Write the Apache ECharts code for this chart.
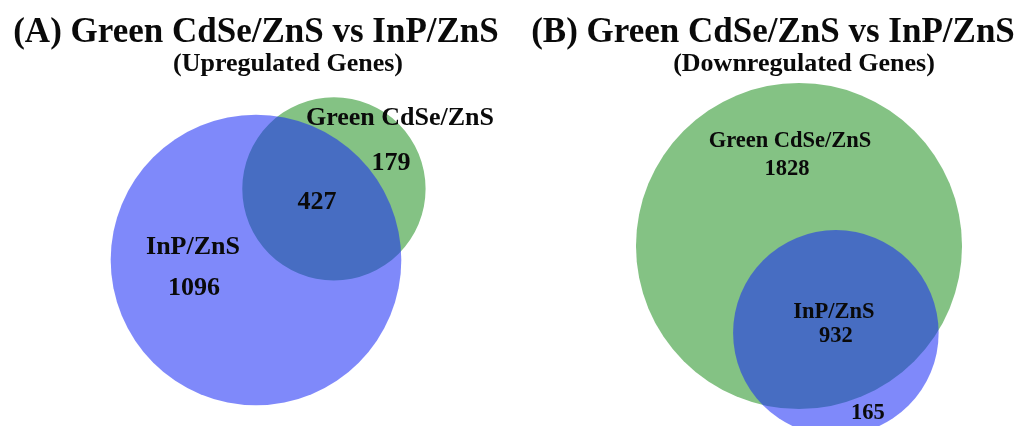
<!DOCTYPE html>
<html>
<head>
<meta charset="utf-8">
<script src="https://cdn.jsdelivr.net/npm/echarts@6/dist/echarts.min.js"></script>
<style>
  html, body { margin: 0; padding: 0; background: #ffffff; }
  #chart { width: 1025px; height: 426px; }
</style>
</head>
<body>
<div id="chart"></div>
<script>
// ---- Gene counts per Venn region ----
// (A) upregulated genes
const upSetNames = ['InP/ZnS', 'Green CdSe/ZnS'];
const upOnly = [1096, 179];   // genes unique to each set
const upShared = 427;         // genes common to both sets

// (B) downregulated genes
const downSetNames = ['Green CdSe/ZnS', 'InP/ZnS'];
const downOnly = [1828, 165];
const downShared = 932;

const panelTitles = ['(A) Green CdSe/ZnS vs InP/ZnS', '(B) Green CdSe/ZnS vs InP/ZnS'];
const panelSubtitles = ['(Upregulated Genes)', '(Downregulated Genes)'];

// ---- Appearance ----
const W = 1025, H = 426;
const FONT = '"Liberation Serif", "Times New Roman", serif';
const TEXT_COLOR = '#0a0a0a';
const setStyle = {
  'Green CdSe/ZnS': { fill: 'rgb(132,194,132)', opacity: 1, z: 0 },
  'InP/ZnS':        { fill: 'rgb(22,40,245)',  opacity: 0.55, z: 1 }
};

// ---- Area-proportional Venn geometry ----
function lensArea(r1, r2, d) {
  if (d >= r1 + r2) return 0;
  const rs = Math.min(r1, r2), rl = Math.max(r1, r2);
  if (d <= rl - rs) return Math.PI * rs * rs;
  const a1 = Math.acos((d * d + r1 * r1 - r2 * r2) / (2 * d * r1));
  const a2 = Math.acos((d * d + r2 * r2 - r1 * r1) / (2 * d * r2));
  const k = Math.sqrt((-d + r1 + r2) * (d + r1 - r2) * (d - r1 + r2) * (d + r1 + r2));
  return r1 * r1 * a1 + r2 * r2 * a2 - 0.5 * k;
}
function solveDistance(r1, r2, target) {
  let lo = Math.abs(r1 - r2), hi = r1 + r2;
  for (let i = 0; i < 80; i++) {
    const mid = (lo + hi) / 2;
    if (lensArea(r1, r2, mid) > target) lo = mid; else hi = mid;
  }
  return (lo + hi) / 2;
}

// layout: where the first circle sits (px), px per unit, direction of the second circle
const panelLayouts = [
  { cx: 256, cy: 260, scale: 6.6, angle: 42.4 },
  { cx: 799, cy: 246, scale: 5.5, angle: -67 }
];

function buildPanel(names, only, shared, layout) {
  const totals = only.map(v => v + shared);
  const radii = totals.map(t => Math.sqrt(t / Math.PI));
  const dist = solveDistance(radii[0], radii[1], shared);
  const th = layout.angle * Math.PI / 180;
  const centers = [[0, 0], [dist * Math.cos(th), dist * Math.sin(th)]];
  return { names, only, shared, radii, centers, layout };
}

const panels = [
  buildPanel(upSetNames, upOnly, upShared, panelLayouts[0]),
  buildPanel(downSetNames, downOnly, downShared, panelLayouts[1])
];

// label placement: pixel offset from a circle's centre
const labelSpecs = [
  [
    { circle: 0, dx: -63, dy: -13, text: p => p.names[0], size: 26 },
    { circle: 0, dx: -62, dy: 28,  text: p => String(p.only[0]), size: 26 },
    { circle: 0, dx: 61,  dy: -58, text: p => String(p.shared), size: 26 },
    { circle: 1, dx: 66,  dy: -71, text: p => p.names[1], size: 26 },
    { circle: 1, dx: 57,  dy: -26, text: p => String(p.only[1]), size: 26 }
  ],
  [
    { circle: 0, dx: -9,  dy: -105, text: p => p.names[0], size: 22.5 },
    { circle: 0, dx: -12, dy: -77,  text: p => String(p.only[0]), size: 22.5 },
    { circle: 1, dx: -2,  dy: -21,  text: p => p.names[1], size: 22.5 },
    { circle: 1, dx: 0,   dy: 3,    text: p => String(p.shared), size: 22.5 },
    { circle: 1, dx: 32,  dy: 80,   text: p => String(p.only[1]), size: 22.5 }
  ]
];

const grids = [], xAxes = [], yAxes = [], series = [];

panels.forEach((p, pi) => {
  const L = p.layout, k = L.scale;
  grids.push({ left: 0, top: 0, width: W, height: H, containLabel: false, show: false });
  xAxes.push({ gridIndex: pi, type: 'value', min: -L.cx / k, max: (W - L.cx) / k, show: false });
  yAxes.push({ gridIndex: pi, type: 'value', min: -(H - L.cy) / k, max: L.cy / k, show: false });

  // circles, drawn with the green set underneath
  const circleData = p.names.map((n, i) => [p.centers[i][0], p.centers[i][1], p.radii[i], i])
    .sort((a, b) => setStyle[p.names[a[3]]].z - setStyle[p.names[b[3]]].z);

  series.push({
    type: 'custom',
    coordinateSystem: 'cartesian2d',
    xAxisIndex: pi, yAxisIndex: pi,
    silent: true,
    data: circleData,
    renderItem: (params, api) => {
      const c = api.coord([api.value(0), api.value(1)]);
      const r = api.size([api.value(2), 0])[0];
      const st = setStyle[p.names[api.value(3)]];
      return {
        type: 'circle',
        shape: { cx: c[0], cy: c[1], r: r },
        style: { fill: st.fill, opacity: st.opacity }
      };
    },
    z: 1
  });

  // region labels
  const specs = labelSpecs[pi];
  const labelData = specs.map((s, i) => [
    p.centers[s.circle][0] + s.dx / k,
    p.centers[s.circle][1] - s.dy / k,
    i
  ]);
  series.push({
    type: 'custom',
    coordinateSystem: 'cartesian2d',
    xAxisIndex: pi, yAxisIndex: pi,
    silent: true,
    data: labelData,
    renderItem: (params, api) => {
      const c = api.coord([api.value(0), api.value(1)]);
      const s = specs[api.value(2)];
      return {
        type: 'text',
        x: c[0], y: c[1],
        style: {
          text: s.text(p),
          font: 'bold ' + s.size + 'px ' + FONT,
          fill: TEXT_COLOR,
          align: 'center',
          verticalAlign: 'middle'
        }
      };
    },
    z: 5
  });
});

// panel headings
const headingPos = [
  { x: 256, y: 33, sx: 288, sy: 64 },
  { x: 773, y: 33, sx: 804, sy: 64 }
];
const graphics = [];
headingPos.forEach((h, i) => {
  graphics.push({
    type: 'text', x: h.x, y: h.y, z: 10,
    style: { text: panelTitles[i], font: 'bold 35px ' + FONT, fill: TEXT_COLOR, align: 'center', verticalAlign: 'middle' }
  });
  graphics.push({
    type: 'text', x: h.sx, y: h.sy, z: 10,
    style: { text: panelSubtitles[i], font: 'bold 26px ' + FONT, fill: TEXT_COLOR, align: 'center', verticalAlign: 'middle' }
  });
});

const chart = echarts.init(document.getElementById('chart'), null, { renderer: 'canvas' });
chart.setOption({
  backgroundColor: '#ffffff',
  animation: false,
  grid: grids,
  xAxis: xAxes,
  yAxis: yAxes,
  series: series,
  graphic: graphics
});
</script>
</body>
</html>
